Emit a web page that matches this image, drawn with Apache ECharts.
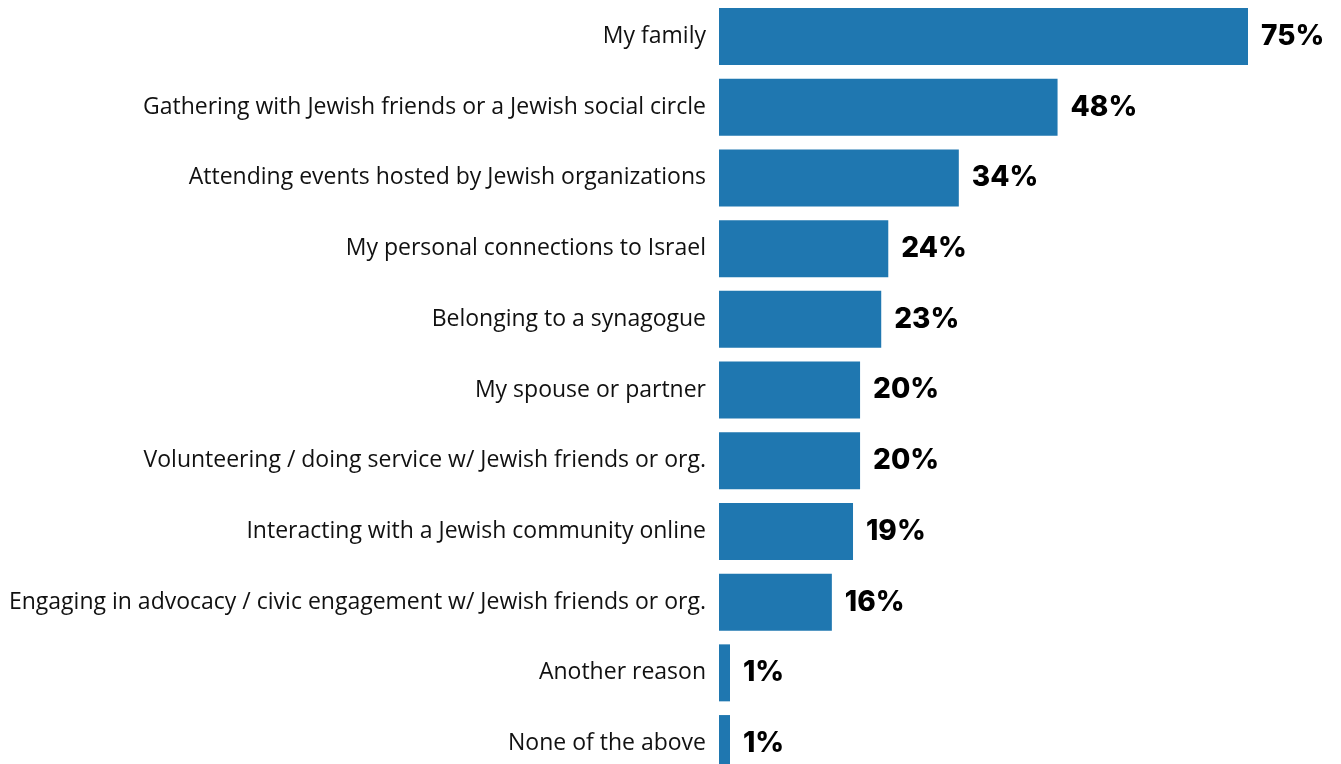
<!DOCTYPE html>
<html>
<head>
<meta charset="utf-8">
<script src="https://cdn.jsdelivr.net/npm/echarts@6/dist/echarts.min.js"></script>
<style>
html,body{margin:0;padding:0;background:#fff;overflow:hidden;}
#chart{width:1341px;height:779px;}
</style>
</head>
<body>
<div id="chart"></div>
<script>
const categories = [
  "My family",
  "Gathering with Jewish friends or a Jewish social circle",
  "Attending events hosted by Jewish organizations",
  "My personal connections to Israel",
  "Belonging to a synagogue",
  "My spouse or partner",
  "Volunteering / doing service w/ Jewish friends or org.",
  "Interacting with a Jewish community online",
  "Engaging in advocacy / civic engagement w/ Jewish friends or org.",
  "Another reason",
  "None of the above"
];
const values = [75, 48, 34, 24, 23, 20, 20, 19, 16, 1, 1];

const chart = echarts.init(document.getElementById('chart'));
chart.setOption({
  animation: false,
  grid: { left: 719, width: 529, top: 1.2, height: 777.7, containLabel: false },
  xAxis: {
    type: 'value', min: 0, max: 75,
    show: false
  },
  yAxis: {
    type: 'category',
    data: categories,
    inverse: true,
    axisLine: { show: false },
    axisTick: { show: false },
    axisLabel: {
      margin: 13,
      color: '#111',
      fontSize: 23,
      fontFamily: 'Open Sans, sans-serif'
    }
  },
  series: [{
    type: 'bar',
    data: values,
    barCategoryGap: '19.4%',
    barMinHeight: 11,
    itemStyle: { color: '#1f77b0' },
    label: {
      show: true,
      position: 'right',
      distance: 13,
      formatter: p => p.value + '%',
      color: '#000',
      fontSize: 28,
      fontWeight: 800,
      fontFamily: 'Inter, sans-serif'
    }
  }]
});
</script>
</body>
</html>
